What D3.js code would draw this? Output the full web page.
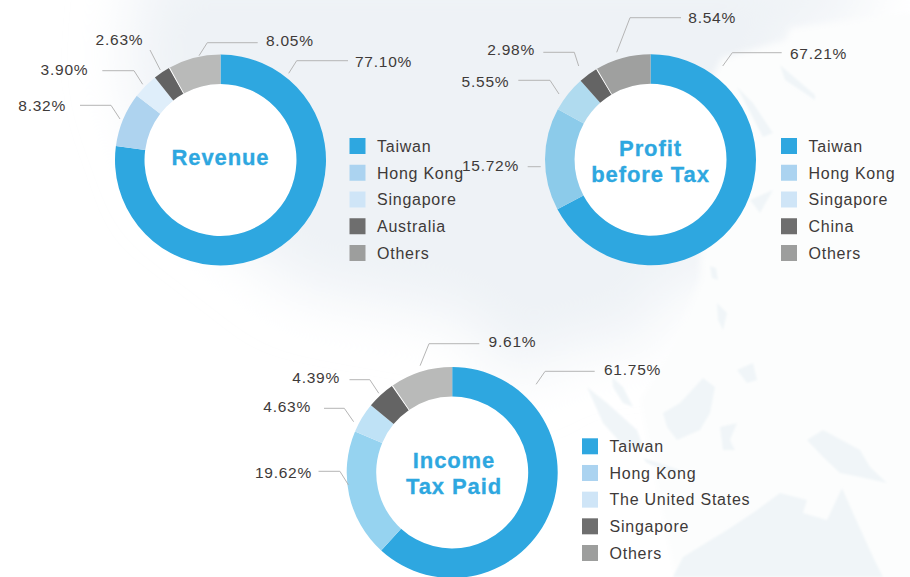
<!DOCTYPE html>
<html>
<head>
<meta charset="utf-8">
<script src="https://cdn.jsdelivr.net/npm/d3@7"></script>
<style>
  html, body { margin: 0; padding: 0; background: #fff; }
  text { font-family: "Liberation Sans", sans-serif; }
</style>
</head>
<body>
<svg width="910" height="577"></svg>
<script>
// values
var revenueNames = ["Taiwan", "Hong Kong", "Singapore", "Australia", "Others"];
var revenueValues = [77.10, 8.32, 3.90, 2.63, 8.05];
var profitNames = ["Taiwan", "Hong Kong", "Singapore", "China", "Others"];
var profitValues = [67.21, 15.72, 5.55, 2.98, 8.54];
var taxNames = ["Taiwan", "Hong Kong", "The United States", "Singapore", "Others"];
var taxValues = [61.75, 19.62, 4.63, 4.39, 9.61];

var legendColors = ["#2ea7e0", "#abd3f0", "#cfe5f7", "#6e6e6e", "#9d9e9d"];

// faint map behind the charts, only a rough outline of the land
var asiaShape = [[140, -40], [880, -40], [860, 20], [790, 40], [760, 170], [740, 270], [650, 300], [660, 340], [600, 345], [560, 350], [510, 385], [470, 320], [300, 290], [170, 190], [130, 80]];
var seaShape = [[790, 28], [930, 10], [930, 600], [680, 600], [640, 400], [672, 350], [700, 280], [706, 90], [722, 58], [786, 40]];
var landShapes = [
  [[673, 577], [683, 557], [727, 530], [757, 510], [780, 493], [807, 500], [803, 513], [827, 520], [842, 488], [853, 513], [873, 557], [883, 577]],
  [[663, 413], [680, 403], [703, 378], [715, 387], [710, 413], [700, 430], [677, 440], [667, 427]],
  [[807, 440], [823, 430], [860, 450], [870, 467], [887, 483], [860, 477], [840, 473], [823, 457]],
  [[587, 387], [607, 403], [637, 430], [643, 447], [627, 450], [603, 423]],
  [[612, 377], [623, 387], [633, 407], [623, 403], [613, 387]],
  [[717, 303], [727, 313], [723, 330], [718, 320]],
  [[737, 370], [753, 363], [757, 380], [747, 383]],
  [[720, 427], [737, 423], [730, 440], [735, 450], [723, 450]],
  [[643, 458], [680, 470], [673, 473], [647, 463]],
  [[737, 87], [753, 103], [773, 133], [763, 137]],
  [[780, 65], [815, 95], [815, 100], [785, 80]],
  [[750, 200], [773, 190], [760, 213]],
  [[710, 266], [716, 268], [718, 280], [712, 278]]
];

// layout of each donut, leader points are hand placed like in the original
var charts = [
  {
    names: revenueNames, values: revenueValues, title: ["Revenue"],
    cx: 220.5, cy: 160, legendX: 349.5, legendY: [146, 253], titleX: 220.5, titleY: [165],
    colors: ["#2ea7e0", "#aed3ef", "#dfeefa", "#636363", "#b9bab9"],
    leaders: [
      { pts: [[288.7, 73.3], [296.7, 60.7], [348, 60.7]], x: 355, y: 61.7, anchor: "start" },
      { pts: [[120, 119], [111, 105.3], [80, 105.3]], x: 66, y: 105, anchor: "end" },
      { pts: [[142.7, 84.3], [134, 70.7], [102.3, 70.7]], x: 88.3, y: 69, anchor: "end" },
      { pts: [[160.3, 70], [150, 50]], x: 143.3, y: 39, anchor: "end" },
      { pts: [[199, 55.7], [207.3, 42.7], [257.7, 42.7]], x: 266, y: 40.7, anchor: "start" }
    ]
  },
  {
    names: profitNames, values: profitValues, title: ["Profit", "before Tax"],
    cx: 650.5, cy: 159.7, legendX: 781, legendY: [146, 253], titleX: 650.5, titleY: [156, 182],
    colors: ["#2ea7e0", "#8ccbea", "#b0dbef", "#646464", "#9fa09f"],
    leaders: [
      { pts: [[722.7, 66], [732.3, 52.7], [781.7, 52.7]], x: 790, y: 53.3, anchor: "start" },
      { pts: [[540.7, 166.7], [527.7, 166.7]], x: 519, y: 165, anchor: "end" },
      { pts: [[559, 94], [550, 80.3], [518.3, 80.3]], x: 509.3, y: 81.7, anchor: "end" },
      { pts: [[578.7, 66], [574.3, 52.3], [543.3, 52.3]], x: 535, y: 49.3, anchor: "end" },
      { pts: [[616.7, 52.3], [630, 17.7], [681, 17.7]], x: 688.3, y: 17.7, anchor: "start" }
    ]
  },
  {
    names: taxNames, values: taxValues, title: ["Income", "Tax Paid"],
    cx: 452.2, cy: 472.5, legendX: 582, legendY: [446.3, 553], titleX: 454, titleY: [468, 494],
    colors: ["#2ea7e0", "#96d3f0", "#bfe2f6", "#646464", "#b9bab9"],
    leaders: [
      { pts: [[536.1, 384.3], [545.1, 371.3], [594.7, 371.3]], x: 604, y: 369, anchor: "start" },
      { pts: [[348.5, 485], [339.9, 471.3], [318.5, 471.3]], x: 312, y: 472.7, anchor: "end" },
      { pts: [[353.6, 421.7], [344.3, 408.3], [324, 408.3]], x: 311, y: 406, anchor: "end" },
      { pts: [[378.8, 393.3], [369.8, 379.7], [349.5, 379.7]], x: 340, y: 377.7, anchor: "end" },
      { pts: [[420.1, 365.7], [429, 343.7], [479.3, 343.7]], x: 488.6, y: 341.7, anchor: "start" }
    ]
  }
];

var svg = d3.select("svg");
var defs = svg.append("defs");

function blur(id, amount) {
  defs.append("filter").attr("id", id)
    .attr("filterUnits", "userSpaceOnUse")
    .attr("x", -100).attr("y", -100).attr("width", 1200).attr("height", 800)
    .append("feGaussianBlur").attr("stdDeviation", amount);
}
blur("wide", 30);
blur("soft", 3);
blur("softer", 1.2);

var line = d3.line();
var mapCurve = d3.line().curve(d3.curveLinearClosed);

svg.append("path")
  .attr("d", mapCurve(asiaShape))
  .attr("fill", "#eef2f6")
  .attr("filter", "url(#wide)");

svg.append("path")
  .attr("d", mapCurve(seaShape))
  .attr("fill", "#fcfdfd")
  .attr("filter", "url(#soft)");

svg.append("g").selectAll("path")
  .data(landShapes)
  .enter().append("path")
  .attr("d", function(d) { return mapCurve(d); })
  .attr("fill", "#f0f5f8")
  .attr("filter", "url(#softer)");

var pie = d3.pie().sort(null).value(function(d) { return d; });
var arc = d3.arc().innerRadius(76).outerRadius(105.5);

charts.forEach(function(c) {
  var g = svg.append("g").attr("transform", "translate(" + c.cx + "," + c.cy + ")");
  var slices = pie(c.values);

  g.append("circle").attr("r", 76).attr("fill", "#fff");

  g.selectAll("path")
    .data(slices)
    .enter().append("path")
    .attr("d", arc)
    .attr("fill", function(d, i) { return c.colors[i]; });

  // thin white edge between the dark slice and Others
  g.append("path")
    .attr("d", arc({ startAngle: slices[4].startAngle - 0.005, endAngle: slices[4].startAngle + 0.005 }))
    .attr("fill", "#fff");

  c.title.forEach(function(t, i) {
    svg.append("text")
      .attr("x", c.titleX)
      .attr("y", c.titleY[i])
      .attr("text-anchor", "middle")
      .attr("font-size", 22)
      .attr("font-weight", "bold")
      .attr("letter-spacing", 0.9)
      .attr("fill", "#2ea7e0")
      .attr("stroke", "#2ea7e0")
      .attr("stroke-width", 0.3)
      .text(t);
  });

  c.leaders.forEach(function(l, i) {
    svg.append("path")
      .attr("d", line(l.pts))
      .attr("fill", "none")
      .attr("stroke", "#b5b5b5")
      .attr("stroke-width", 1);
    svg.append("text")
      .attr("x", l.x)
      .attr("y", l.y)
      .attr("dy", "0.36em")
      .attr("text-anchor", l.anchor)
      .attr("font-size", 15.5)
      .attr("letter-spacing", 0.75)
      .attr("fill", "#3e3a39")
      .text(c.values[i].toFixed(2) + "%");
  });

  var legendY = d3.scalePoint().domain(c.names).range(c.legendY);

  var item = svg.append("g").selectAll("g")
    .data(c.names)
    .enter().append("g")
    .attr("transform", function(d) { return "translate(" + c.legendX + "," + legendY(d) + ")"; });

  item.append("rect")
    .attr("y", -8)
    .attr("width", 16)
    .attr("height", 16)
    .attr("fill", function(d, i) { return legendColors[i]; });

  item.append("text")
    .attr("x", 27.5)
    .attr("dy", "0.36em")
    .attr("font-size", 16)
    .attr("letter-spacing", 0.75)
    .attr("fill", "#3e3a39")
    .text(function(d) { return d; });
});
</script>
</body>
</html>
